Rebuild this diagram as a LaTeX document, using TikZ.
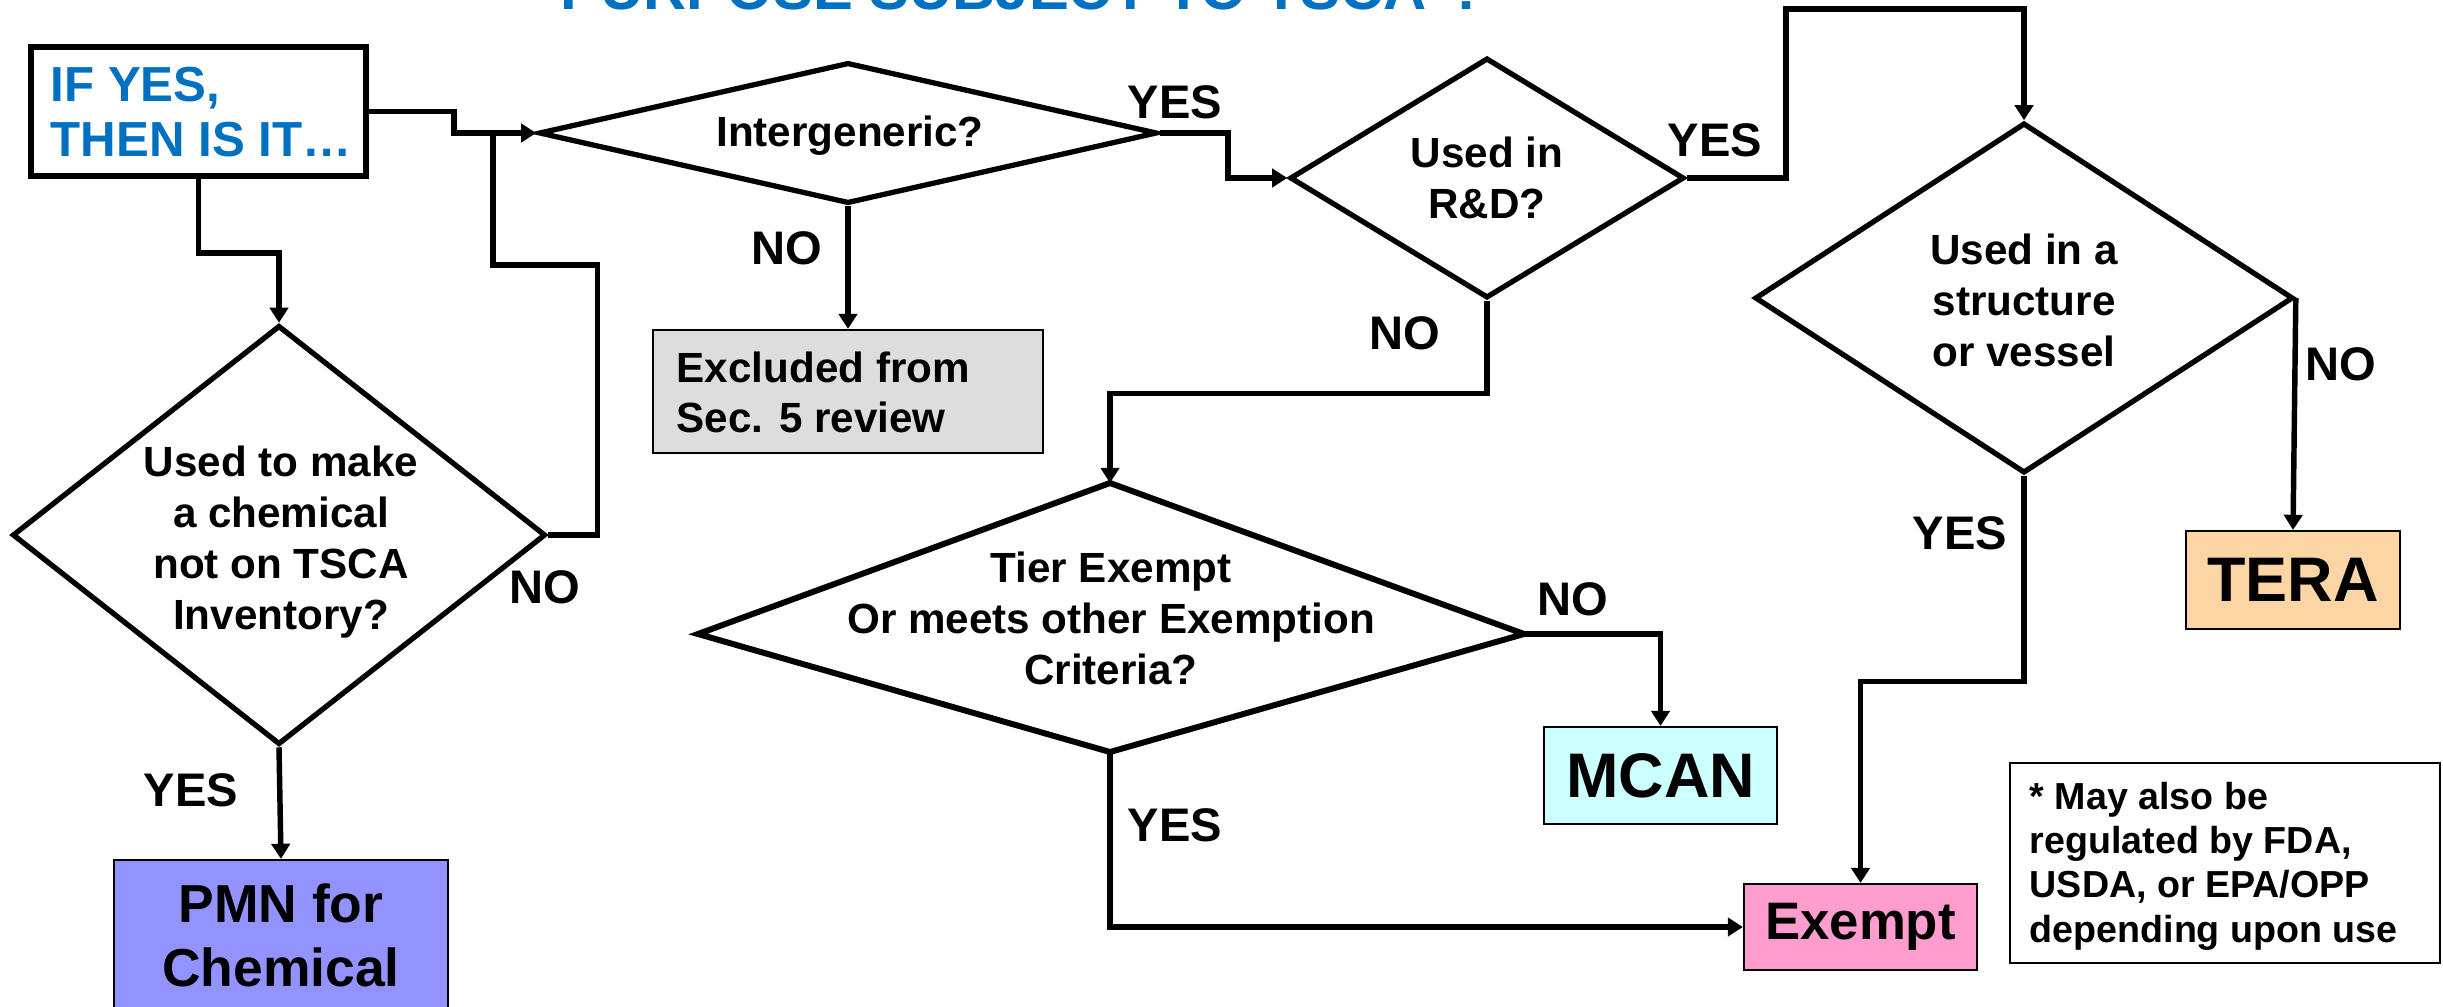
\documentclass[tikz,border=0pt]{standalone}
\usepackage{fontspec}
\setmainfont{Liberation Sans}
\usetikzlibrary{arrows.meta,shapes.geometric}
\definecolor{ttl}{RGB}{0,112,192}
\definecolor{pmnc}{RGB}{147,147,255}
\definecolor{exclc}{RGB}{221,221,221}
\definecolor{mcanc}{RGB}{204,255,255}
\definecolor{terac}{RGB}{252,213,165}
\definecolor{exmc}{RGB}{255,158,206}
\begin{document}
\begin{tikzpicture}[x=0.01cm,y=-0.01cm,
  conn/.style={line width=1.55pt, line join=miter, -{Triangle[length=4.3pt,width=5.2pt]}},
  link/.style={line width=1.55pt, line join=miter},
  dia/.style={diamond, draw, inner sep=0pt, line width=1.5pt, line join=miter},
  res/.style={draw, line width=0.6pt, inner sep=0pt},
  lbl/.style={font=\fontsize{13.4}{15}\selectfont\bfseries, inner sep=0pt},
  dtext/.style={font=\fontsize{12}{14.5}\selectfont\bfseries, align=center, inner sep=0pt},
  big/.style={font=\fontsize{17.9}{20}\selectfont\bfseries},
]
\useasboundingbox (0,0) rectangle (2443,1006);
\fill[white] (0,0) rectangle (2443,1006);

% title (cut off at top, as in the reference)
\node[anchor=base west, inner sep=0pt, text=ttl, font=\fontsize{17}{20}\selectfont\bfseries] (title) at (560,9) {PURPOSE SUBJECT TO TSCA*?};

% start box
\node[draw, line width=1.7pt, minimum width=3.35cm, minimum height=1.29cm, inner sep=0pt] (ifyes) at (198.5,111.5) {};
\node[anchor=west, align=left, inner sep=0pt, text=ttl, font=\fontsize{14}{15.6}\selectfont\bfseries] (ifyest) at (50,112) {IF YES,\\THEN IS IT…};

% diamonds
\node[dia, minimum width=5.33cm, minimum height=4.19cm] (used) at (279,535) {};
\node[dtext] (usedt) at (281,542) {Used to make\\a chemical\\not on TSCA\\Inventory?};

\node[dia, minimum width=6.18cm, minimum height=1.41cm] (inter) at (848,133) {};
\node[dtext] (intert) at (850,136) {Intergeneric?};

\node[dia, minimum width=3.94cm, minimum height=2.40cm] (rd) at (1487,178) {};
\node[dtext] (rdt) at (1487,178) {Used in\\R\&D?};

\node[dia, minimum width=5.38cm, minimum height=3.50cm] (struct) at (2024,298) {};
\node[dtext] (structt) at (2024,300) {Used in a\\structure\\or vessel};

\coordinate (tierN) at (1110,483);
\coordinate (tierW) at (698,634);
\coordinate (tierE) at (1524,634);
\coordinate (tierS) at (1110,752);
\draw[line width=1.7pt, line join=miter] (tierN) -- (tierE) -- (tierS) -- (tierW) -- cycle;
\node[dtext] (tiert) at (1111,618) {Tier Exempt\\Or meets other Exemption\\Criteria?};

% result boxes
\node[res, fill=exclc, minimum width=3.90cm, minimum height=1.23cm] (excl) at (848,391.5) {};
\node[anchor=west, align=left, inner sep=0pt, font=\fontsize{12}{14.2}\selectfont\bfseries] (exclt) at (676,392) {Excluded from\\Sec. 5 review};

\node[res, fill=pmnc, minimum width=3.34cm, minimum height=1.80cm] (pmn) at (281,950) {};
\node[align=center, inner sep=0pt, font=\fontsize{15.2}{18.2}\selectfont\bfseries] (pmnt) at (281,935) {PMN for\\Chemical};

\node[res, fill=mcanc, minimum width=2.33cm, minimum height=0.97cm, big] (mcan) at (1660.5,775.5) {MCAN};
\node[res, fill=terac, minimum width=2.14cm, minimum height=0.98cm, big] (tera) at (2293,580) {TERA};
\node[res, fill=exmc, minimum width=2.33cm, minimum height=0.86cm, font=\fontsize{15}{18}\selectfont\bfseries] (exm) at (1860.5,927) {Exempt};

\node[res, fill=white, minimum width=4.30cm, minimum height=2.00cm] (note) at (2225,863) {};
\node[anchor=west, align=left, inner sep=0pt, font=\fontsize{10.7}{12.6}\selectfont\bfseries] (notet) at (2029,866) {* May also be\\regulated by FDA,\\USDA, or EPA/OPP\\depending upon use};

% connectors
\coordinate (loopj) at (493,133);
\draw[conn] (ifyes.east) -- ++(85,0) |- (inter.west);
\draw[conn] (ifyes.south) -- ++(0,74) -| (used.north);
\draw[link] (used.east) -- ++(49,0) -- ++(0,-270) -| (loopj);
\draw[conn] (inter.south) -- (excl.north);
\draw[conn] (inter.east) -- ++(68,0) |- (rd.west);
\draw[conn] (rd.east) -- ++(99,0) -- ++(0,-169) -| (struct.north);
\draw[conn] (rd.south) -- ++(0,93) -| (tierN);
\draw[conn] (struct.east) -- (tera.north);
\draw[conn] (struct.south) -- ++(0,206) -| (exm.north);
\draw[conn] (tierE) -| (mcan.north);
\draw[conn] (tierS) |- (exm.west);
\draw[conn] (used.south) -- (pmn.north);

% labels
\node[lbl] (l1) at (1175,102) {YES};
\node[lbl] (l2) at (787,248) {NO};
\node[lbl] (l3) at (1715,140) {YES};
\node[lbl] (l4) at (1405,333) {NO};
\node[lbl] (l5) at (545,587) {NO};
\node[lbl] (l6) at (191,790) {YES};
\node[lbl] (l7) at (1573,599) {NO};
\node[lbl] (l8) at (1175,825) {YES};
\node[lbl] (l9) at (1960,533) {YES};
\node[lbl] (l10) at (2341,364) {NO};
\end{tikzpicture}
\end{document}
